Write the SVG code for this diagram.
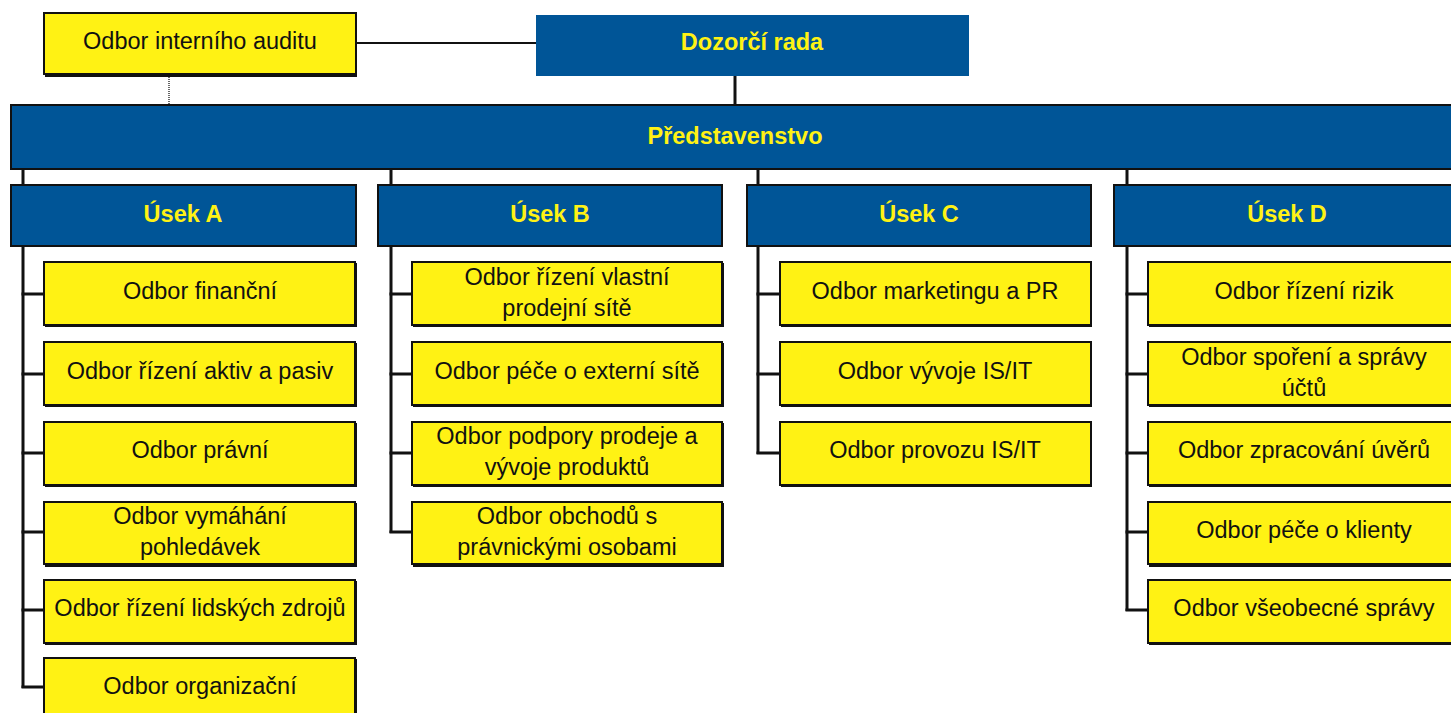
<svg xmlns="http://www.w3.org/2000/svg" width="1451" height="713" viewBox="0 0 1451 713">
<style>
.y{fill:#FFF214;stroke:#111;stroke-width:2}
.b{fill:#005597;stroke:#111;stroke-width:2}
.bn{fill:#005597}
.sh{fill:#111}
.t{font-family:"Liberation Sans",Arial,sans-serif;font-size:23.5px;fill:#111;text-anchor:middle}
.h{font-family:"Liberation Sans",Arial,sans-serif;font-size:23.5px;font-weight:bold;fill:#FFF214;text-anchor:middle}
.c{stroke:#111;stroke-width:3;fill:none}
</style>
<rect width="1451" height="713" fill="#fff"/>
<g id="connectors">
<line x1="356" y1="43" x2="536" y2="43" stroke="#111" stroke-width="2"/>
<line x1="169" y1="75" x2="169" y2="105" stroke="#666" stroke-width="2" stroke-dasharray="1,1"/>
<line class="c" x1="735" y1="73" x2="735" y2="105"/>
<line class="c" x1="23" y1="169" x2="23" y2="688"/>
<line class="c" x1="391" y1="169" x2="391" y2="533"/>
<line class="c" x1="758" y1="169" x2="758" y2="454"/>
<line class="c" x1="1127" y1="169" x2="1127" y2="611"/>
<path class="c" d="M21.5 294H44M21.5 374H44M21.5 453H44M21.5 532H44M21.5 610H44M21.5 687H44"/>
<path class="c" d="M389.5 294H412M389.5 374H412M389.5 453H412M389.5 532H412"/>
<path class="c" d="M756.5 294H780M756.5 374H780M756.5 453H780"/>
<path class="c" d="M1125.5 294H1148M1125.5 374H1148M1125.5 453H1148M1125.5 532H1148M1125.5 610H1148"/>
</g>
<g id="audit"><rect class="sh" x="45" y="15" width="312" height="62"/><rect class="y" x="44" y="13" width="312" height="61"/><text class="t" x="200" y="49">Odbor interního auditu</text></g>
<g id="dozorci"><rect class="bn" x="536" y="15" width="433" height="61"/><text class="h" x="752" y="50">Dozorčí rada</text></g>
<g id="predstavenstvo"><rect class="b" x="11" y="105" width="1450" height="64"/><text class="h" x="735" y="144">Představenstvo</text></g>
<g id="usekA"><rect class="b" x="11" y="185" width="345" height="61"/><text class="h" x="183" y="222">Úsek A</text></g>
<g id="usekB"><rect class="b" x="378" y="185" width="344" height="61"/><text class="h" x="550" y="222">Úsek B</text></g>
<g id="usekC"><rect class="b" x="747" y="185" width="344" height="61"/><text class="h" x="919" y="222">Úsek C</text></g>
<g id="usekD"><rect class="b" x="1114" y="185" width="346" height="61"/><text class="h" x="1287" y="222">Úsek D</text></g>

<g id="a1"><rect class="sh" x="45" y="263" width="312" height="64"/><rect class="y" x="44" y="262" width="311" height="63"/><text class="t" x="200" y="299">Odbor finanční</text></g>
<g id="a2"><rect class="sh" x="45" y="343" width="312" height="64"/><rect class="y" x="44" y="342" width="311" height="63"/><text class="t" x="200" y="379">Odbor řízení aktiv a pasiv</text></g>
<g id="a3"><rect class="sh" x="45" y="423" width="312" height="64"/><rect class="y" x="44" y="422" width="311" height="63"/><text class="t" x="200" y="458">Odbor právní</text></g>
<g id="a4"><rect class="sh" x="45" y="503" width="312" height="64"/><rect class="y" x="44" y="502" width="311" height="62"/><text class="t" x="200" y="524">Odbor vymáhání</text><text class="t" x="200" y="555">pohledávek</text></g>
<g id="a5"><rect class="sh" x="45" y="581" width="312" height="64"/><rect class="y" x="44" y="580" width="311" height="63"/><text class="t" x="200" y="616">Odbor řízení lidských zdrojů</text></g>
<g id="a6"><rect class="sh" x="45" y="659" width="312" height="64"/><rect class="y" x="44" y="658" width="311" height="63"/><text class="t" x="200" y="694">Odbor organizační</text></g>

<g id="b1"><rect class="sh" x="413" y="263" width="311" height="64"/><rect class="y" x="412" y="262" width="310" height="63"/><text class="t" x="567" y="285">Odbor řízení vlastní</text><text class="t" x="567" y="316">prodejní sítě</text></g>
<g id="b2"><rect class="sh" x="413" y="343" width="311" height="64"/><rect class="y" x="412" y="342" width="310" height="63"/><text class="t" x="567" y="379">Odbor péče o externí sítě</text></g>
<g id="b3"><rect class="sh" x="413" y="423" width="311" height="64"/><rect class="y" x="412" y="422" width="310" height="63"/><text class="t" x="567" y="444">Odbor podpory prodeje a</text><text class="t" x="567" y="475">vývoje produktů</text></g>
<g id="b4"><rect class="sh" x="413" y="503" width="311" height="64"/><rect class="y" x="412" y="502" width="310" height="62"/><text class="t" x="567" y="524">Odbor obchodů s</text><text class="t" x="567" y="555">právnickými osobami</text></g>

<g id="c1"><rect class="sh" x="781" y="263" width="311" height="64"/><rect class="y" x="780" y="262" width="311" height="63"/><text class="t" x="935" y="299">Odbor marketingu a PR</text></g>
<g id="c2"><rect class="sh" x="781" y="343" width="311" height="64"/><rect class="y" x="780" y="342" width="311" height="63"/><text class="t" x="935" y="379">Odbor vývoje IS/IT</text></g>
<g id="c3"><rect class="sh" x="781" y="423" width="311" height="64"/><rect class="y" x="780" y="422" width="311" height="63"/><text class="t" x="935" y="458">Odbor provozu IS/IT</text></g>

<g id="d1"><rect class="sh" x="1149" y="263" width="312" height="64"/><rect class="y" x="1148" y="262" width="312" height="63"/><text class="t" x="1304" y="299">Odbor řízení rizik</text></g>
<g id="d2"><rect class="sh" x="1149" y="343" width="312" height="64"/><rect class="y" x="1148" y="342" width="312" height="63"/><text class="t" x="1304" y="365">Odbor spoření a správy</text><text class="t" x="1304" y="396">účtů</text></g>
<g id="d3"><rect class="sh" x="1149" y="423" width="312" height="64"/><rect class="y" x="1148" y="422" width="312" height="63"/><text class="t" x="1304" y="458">Odbor zpracování úvěrů</text></g>
<g id="d4"><rect class="sh" x="1149" y="503" width="312" height="64"/><rect class="y" x="1148" y="502" width="312" height="62"/><text class="t" x="1304" y="538">Odbor péče o klienty</text></g>
<g id="d5"><rect class="sh" x="1149" y="581" width="312" height="64"/><rect class="y" x="1148" y="580" width="312" height="63"/><text class="t" x="1304" y="616">Odbor všeobecné správy</text></g>
</svg>
